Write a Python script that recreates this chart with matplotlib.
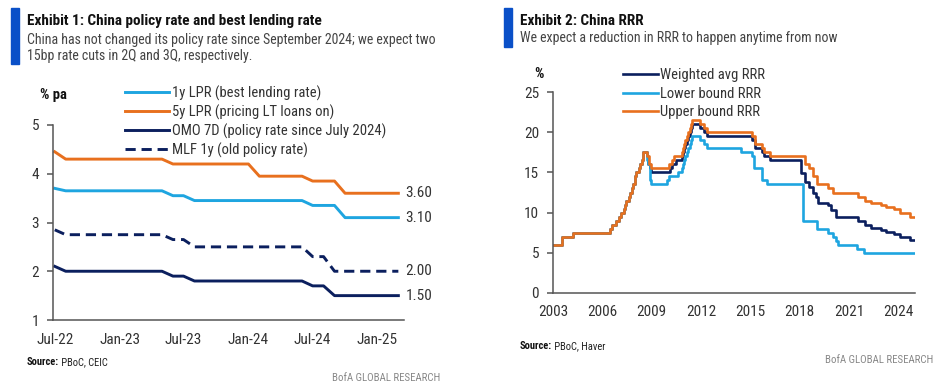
import pandas as pd
import matplotlib.pyplot as plt
from matplotlib import font_manager
from matplotlib.patches import Rectangle

# narrow font if there is one, else Roboto a bit smaller
names = {f.name for f in font_manager.fontManager.ttflist}
if "Roboto Condensed" in names:
    FONT, SCALE = "Roboto Condensed", 1.0
else:
    FONT, SCALE = "Roboto", 0.88
plt.rcParams['font.family'] = [FONT, 'DejaVu Sans']

NAVY = "#0b1f5e"
LIGHT = "#1ea5e0"
ORANGE = "#e8701e"
BAR = "#0a50c8"
AXIS = "#555555"
TXT = "#333333"

# ---- Exhibit 1 data: monthly, Jul-22 .. Mar-25
months = pd.date_range("2022-07-01", periods=33, freq="MS")
lpr_1y = [3.70, 3.65, 3.65, 3.65, 3.65, 3.65, 3.65, 3.65, 3.65, 3.65, 3.65,
          3.55, 3.55, 3.45, 3.45, 3.45, 3.45, 3.45, 3.45, 3.45, 3.45, 3.45,
          3.45, 3.45, 3.35, 3.35, 3.35, 3.10, 3.10, 3.10, 3.10, 3.10, 3.10]
lpr_5y = [4.45, 4.30, 4.30, 4.30, 4.30, 4.30, 4.30, 4.30, 4.30, 4.30, 4.30,
          4.20, 4.20, 4.20, 4.20, 4.20, 4.20, 4.20, 4.20, 3.95, 3.95, 3.95,
          3.95, 3.95, 3.85, 3.85, 3.85, 3.60, 3.60, 3.60, 3.60, 3.60, 3.60]
omo_7d = [2.10, 2.00, 2.00, 2.00, 2.00, 2.00, 2.00, 2.00, 2.00, 2.00, 2.00,
          1.90, 1.90, 1.80, 1.80, 1.80, 1.80, 1.80, 1.80, 1.80, 1.80, 1.80,
          1.80, 1.80, 1.70, 1.70, 1.50, 1.50, 1.50, 1.50, 1.50, 1.50, 1.50]
mlf_1y = [2.85, 2.75, 2.75, 2.75, 2.75, 2.75, 2.75, 2.75, 2.75, 2.75, 2.75,
          2.65, 2.65, 2.50, 2.50, 2.50, 2.50, 2.50, 2.50, 2.50, 2.50, 2.50,
          2.50, 2.50, 2.30, 2.30, 2.00, 2.00, 2.00, 2.00, 2.00, 2.00, 2.00]
ex1_ticks = ["2022-07-01", "2023-01-01", "2023-07-01", "2024-01-01", "2024-07-01", "2025-01-01"]
ex1_tick_labels = ["Jul-22", "Jan-23", "Jul-23", "Jan-24", "Jul-24", "Jan-25"]

# ---- Exhibit 2 data: RRR change points (decimal year, %)
common_years = [2003.0, 2003.57, 2004.22, 2006.45, 2006.6, 2006.85, 2007.04, 2007.15,
                2007.3, 2007.38, 2007.45, 2007.62, 2007.7, 2007.8, 2007.88, 2007.96,
                2008.05, 2008.2, 2008.3, 2008.38, 2008.45]
common_vals = [6.0, 7.0, 7.5, 8.0, 8.5, 9.0, 9.5, 10.0, 10.5, 11.0, 11.5, 12.0,
               12.5, 13.0, 13.5, 14.5, 15.0, 15.5, 16.0, 16.5, 17.5]

upper_years = common_years + [2008.72, 2008.85, 2008.95, 2010.05, 2010.25, 2010.37, 2010.87,
                              2010.92, 2010.98, 2011.05, 2011.15, 2011.22, 2011.3, 2011.38,
                              2011.47, 2011.93, 2012.15, 2012.38, 2015.1, 2015.3, 2015.7,
                              2015.82, 2016.2, 2018.3, 2018.55, 2018.8, 2019.05, 2019.7,
                              2020.0, 2021.55, 2021.95, 2022.3, 2022.95, 2023.22, 2023.7,
                              2024.1, 2024.72, 2025.0]
upper_vals = common_vals + [17.0, 16.0, 15.5, 16.0, 16.5, 17.0, 17.5, 18.0, 18.5, 19.0, 19.5,
                            20.0, 20.5, 21.0, 21.5, 21.0, 20.5, 20.0, 19.5, 18.5, 18.0, 17.5,
                            17.0, 16.0, 15.5, 14.5, 13.5, 13.0, 12.5, 12.0, 11.5, 11.25, 11.0,
                            10.75, 10.5, 10.0, 9.5, 9.5]

avg_years = common_years + [2008.72, 2008.8, 2008.9, 2008.97, 2010.1, 2010.25, 2010.5, 2010.87,
                            2010.92, 2010.98, 2011.05, 2011.15, 2011.22, 2011.3, 2011.38,
                            2011.47, 2011.93, 2012.15, 2012.38, 2015.1, 2015.3, 2015.7,
                            2015.82, 2016.2, 2018.05, 2018.3, 2018.55, 2018.8, 2019.0, 2019.1,
                            2019.7, 2019.9, 2020.2, 2021.55, 2021.95, 2022.3, 2022.95, 2023.22,
                            2023.7, 2024.1, 2024.72, 2025.0]
avg_vals = common_vals + [17.0, 16.0, 15.5, 15.0, 15.5, 16.0, 16.5, 17.0, 17.5, 18.0, 18.5,
                          19.0, 19.5, 20.0, 20.5, 21.0, 20.5, 20.0, 19.5, 19.0, 18.0, 17.5,
                          17.0, 16.5, 14.9, 13.8, 13.2, 12.4, 11.9, 11.2, 10.9, 10.3, 9.4,
                          8.9, 8.4, 8.1, 7.8, 7.6, 7.4, 7.0, 6.6, 6.6]

lower_years = common_years + [2008.72, 2008.8, 2008.92, 2008.97, 2009.9, 2010.05, 2010.6,
                              2010.87, 2010.92, 2010.98, 2011.05, 2011.15, 2011.22, 2011.3,
                              2011.38, 2011.47, 2011.93, 2012.15, 2012.38, 2014.4, 2015.1,
                              2015.2, 2015.7, 2016.0, 2018.2, 2019.05, 2019.7, 2020.0, 2020.2,
                              2020.3, 2021.5, 2021.9, 2025.0]
lower_vals = common_vals + [16.5, 16.0, 14.0, 13.5, 14.0, 14.5, 15.0, 15.5, 16.0, 16.5, 17.0,
                            17.5, 18.0, 18.5, 19.0, 19.5, 19.0, 18.5, 18.0, 17.5, 17.0, 15.5,
                            14.0, 13.5, 9.0, 8.0, 7.5, 7.0, 6.5, 6.0, 5.5, 5.0, 5.0]
ex2_ticks = [2003, 2006, 2009, 2012, 2015, 2018, 2021, 2024]


def fx(x):
    return x / 941


def fy(y):
    return 1 - y / 386


def fs(size):
    return size * SCALE


def style_axes(ax):
    for side in ["top", "right"]:
        ax.spines[side].set_visible(False)
    for side in ["left", "bottom"]:
        ax.spines[side].set_color(AXIS)
        ax.spines[side].set_linewidth(1.1)
    ax.tick_params(axis="x", length=0, pad=9, labelsize=fs(11), colors=TXT)
    ax.tick_params(axis="y", length=4, width=1.1, pad=6, labelsize=fs(11),
                   colors=AXIS, labelcolor=TXT)


def source_line(x, y, rest):
    head = fig.text(fx(x), fy(y), "Source:", fontsize=fs(7.6), weight="bold",
                    va="center", color="#111111")
    plt.annotate(" " + rest, xy=(1, 0.5), xycoords=head, va="center", ha="left",
                 fontsize=fs(7.6), color="#222222")


fig = plt.figure(figsize=(9.41, 3.86), dpi=100)

# ---- headers
fig.add_artist(Rectangle((fx(11), fy(64)), fx(8), 56 / 386, transform=fig.transFigure, color=BAR))
fig.text(fx(27), fy(21), "Exhibit 1: China policy rate and best lending rate",
         fontsize=fs(11), weight="bold", va="center", color="#111111")
fig.text(fx(27), fy(40), "China has not changed its policy rate since September 2024; we expect two",
         fontsize=fs(10), va="center", color="#444444")
fig.text(fx(27), fy(56), "15bp rate cuts in 2Q and 3Q, respectively.",
         fontsize=fs(10), va="center", color="#444444")

fig.add_artist(Rectangle((fx(504), fy(47)), fx(8), 39 / 386, transform=fig.transFigure, color=BAR))
fig.text(fx(520), fy(21), "Exhibit 2: China RRR",
         fontsize=fs(11), weight="bold", va="center", color="#111111")
fig.text(fx(520), fy(38), "We expect a reduction in RRR to happen anytime from now",
         fontsize=fs(10), va="center", color="#444444")

# ---- Exhibit 1
ax1 = fig.add_axes([fx(53), fy(320), fx(404 - 53), (320 - 125) / 386])
ax1.plot(months, lpr_1y, color=LIGHT, lw=2.1, label="1y LPR (best lending rate)")
ax1.plot(months, lpr_5y, color=ORANGE, lw=2.1, label="5y LPR (pricing LT loans on)")
ax1.plot(months, omo_7d, color=NAVY, lw=2.1, label="OMO 7D (policy rate since July 2024)")
ax1.plot(months, mlf_1y, color=NAVY, lw=2.1, dashes=(3.5, 2), label="MLF 1y (old policy rate)")
for series in [lpr_5y, lpr_1y, mlf_1y, omo_7d]:
    ax1.annotate(f"{series[-1]:.2f}", xy=(months[-1], series[-1]), xytext=(5, 0),
                 textcoords="offset points", va="center", fontsize=fs(11), color=TXT,
                 annotation_clip=False)
ax1.set_ylim(1, 5)
ax1.set_yticks([1, 2, 3, 4, 5])
ax1.set_xlim(pd.Timestamp("2022-06-26"), pd.Timestamp("2025-03-17"))
ax1.set_xticks(pd.to_datetime(ex1_ticks))
ax1.set_xticklabels(ex1_tick_labels)
style_axes(ax1)
ax1.legend(loc="upper left", bbox_to_anchor=(fx(125), fy(85.5)), bbox_transform=fig.transFigure,
           frameon=False, handlelength=3.0, handletextpad=0.25, labelspacing=0.25,
           borderpad=0, borderaxespad=0, fontsize=fs(10.5), labelcolor=TXT)
fig.text(fx(40), fy(95), "% pa", fontsize=fs(10.5), weight="bold", va="center", color="#111111")

# ---- Exhibit 2
ax2 = fig.add_axes([fx(553), fy(293), fx(915 - 553), (293 - 92) / 386])
ax2.plot(avg_years, avg_vals, color=NAVY, lw=1.9, drawstyle="steps-post", label="Weighted avg RRR")
ax2.plot(lower_years, lower_vals, color=LIGHT, lw=1.9, drawstyle="steps-post", label="Lower bound RRR")
ax2.plot(upper_years, upper_vals, color=ORANGE, lw=1.9, drawstyle="steps-post", label="Upper bound RRR")
ax2.set_ylim(0, 25)
ax2.set_yticks([0, 5, 10, 15, 20, 25])
ax2.set_xlim(2003, 2025)
ax2.set_xticks(ex2_ticks)
style_axes(ax2)
ax2.legend(loc="upper left", bbox_to_anchor=(fx(623), fy(68.5)), bbox_transform=fig.transFigure,
           frameon=False, handlelength=2.4, handletextpad=0.15, labelspacing=0.3,
           borderpad=0, borderaxespad=0, fontsize=fs(10.5), labelcolor=TXT)
fig.text(fx(534), fy(74), "%", fontsize=fs(10.5), weight="bold", va="center", color="#111111")

# ---- footers
source_line(27, 362, "PBoC, CEIC")
source_line(520, 346, "PBoC, Haver")
fig.text(fx(440), fy(378), "BofA GLOBAL RESEARCH", fontsize=fs(7.8), ha="right", va="center", color="#888888")
fig.text(fx(933), fy(360), "BofA GLOBAL RESEARCH", fontsize=fs(7.8), ha="right", va="center", color="#888888")

fig.savefig("out.png", dpi=100)
